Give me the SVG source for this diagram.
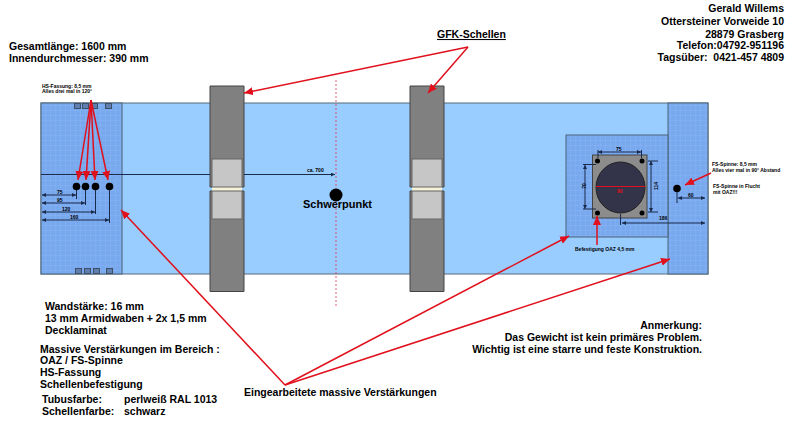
<svg xmlns="http://www.w3.org/2000/svg" width="794" height="425" viewBox="0 0 794 425">
<style>
text{font-family:"Liberation Sans",Arial,sans-serif;font-weight:bold;fill:#000}
.t{font-size:10.5px}
.s{font-size:5px}
.d{stroke:#1a2a4a;stroke-width:1;fill:none}
.dm{stroke:#1a2a4a;stroke-width:1;fill:none;marker-end:url(#dh)}
.dms{stroke:#1a2a4a;stroke-width:1;fill:none;marker-start:url(#dhs);marker-end:url(#dh)}
.r{stroke:#e0101c;stroke-width:1.5;fill:none;marker-end:url(#rh)}
.band{fill:url(#g);stroke:#4a6478;stroke-width:1}
.clamp{fill:#808080;stroke:#444;stroke-width:1}
.pad{fill:#c6c6c6;stroke:#666;stroke-width:1}
.gap{fill:#f6f2d8}
.box{fill:#5f7fae;stroke:#3f4f68;stroke-width:1}
</style>
<defs>
<pattern id="g" width="5" height="5" patternUnits="userSpaceOnUse"><rect width="5" height="5" fill="#78a8ee"/><path d="M0 0H5M0 0V5" stroke="#88b4f2" stroke-width="1"/></pattern>
<marker id="rh" markerUnits="userSpaceOnUse" markerWidth="10" markerHeight="8" refX="9" refY="4" orient="auto"><path d="M0 0L9 4L0 8Z" fill="#e0101c"/></marker>
<marker id="dh" markerUnits="userSpaceOnUse" markerWidth="5" markerHeight="4" refX="4" refY="2" orient="auto"><path d="M0 0L4 2L0 4Z" fill="#1a2a4a"/></marker>
<marker id="dhs" markerUnits="userSpaceOnUse" markerWidth="5" markerHeight="4" refX="0" refY="2" orient="auto"><path d="M4 0L0 2L4 4Z" fill="#1a2a4a"/></marker>
</defs>
<rect width="794" height="425" fill="#fff"/>
<g id="tube"><rect x="41" y="103" width="667" height="171" fill="#99ccff" stroke="#5a6a78" stroke-width="1"/></g>
<g id="left-reinforcement">
<rect class="band" x="41" y="103" width="81" height="171"/>
<rect class="box" x="74.500" y="103.500" width="6" height="5"/><rect class="box" x="82.500" y="103.500" width="6" height="5"/><rect class="box" x="91.500" y="103.500" width="6" height="5"/><rect class="box" x="105.500" y="103.500" width="6" height="5"/>
<rect class="box" x="75.500" y="268.500" width="6" height="5"/><rect class="box" x="84.500" y="268.500" width="6" height="5"/><rect class="box" x="93.500" y="268.500" width="6" height="5"/><rect class="box" x="106.500" y="268.500" width="6" height="5"/>
<circle cx="76.500" cy="186.500" r="3.800" fill="#000"/><circle cx="85.500" cy="186.500" r="3.800" fill="#000"/><circle cx="95.500" cy="186.500" r="3.800" fill="#000"/><circle cx="109.500" cy="186.500" r="3.800" fill="#000"/>
</g>
<g id="right-reinforcement">
<rect class="band" x="668" y="103" width="40" height="171"/>
<rect class="band" x="566" y="135" width="102" height="102"/>
<circle cx="677" cy="188.500" r="3.800" fill="#000"/>
</g>
<g id="oaz">
<rect x="592.500" y="155" width="54.500" height="63" fill="#8c8c8c" stroke="#444"/>
<ellipse cx="620.500" cy="187.500" rx="24.500" ry="25.500" fill="#33334a" stroke="#222"/>
<circle cx="597.500" cy="161" r="2.500" fill="#000"/><circle cx="642" cy="161" r="2.500" fill="#000"/><circle cx="597.500" cy="213" r="2.500" fill="#000"/><circle cx="642" cy="213" r="2.500" fill="#000"/>
</g>
<g id="clamp-1">
<path class="clamp" d="M210 86H244V187H210Z"/><path class="clamp" d="M210 191H244V291.500H210Z"/>
<rect class="gap" x="212" y="187" width="30" height="4"/>
<rect class="pad" x="212" y="159" width="30" height="28"/><rect class="pad" x="212" y="191" width="30" height="28"/>
</g>
<g id="clamp-2">
<path class="clamp" d="M410 86H444V187H410Z"/><path class="clamp" d="M410 191H444V291.500H410Z"/>
<rect class="gap" x="412" y="187" width="30" height="4"/>
<rect class="pad" x="412" y="159" width="30" height="28"/><rect class="pad" x="412" y="191" width="30" height="28"/>
</g>
<g id="centre-line"><line x1="336" y1="80" x2="336" y2="308" stroke="#e0405a" stroke-opacity=".7" stroke-width="1.200" stroke-dasharray="2 2"/></g>
<g id="centre-of-gravity"><circle cx="336" cy="195" r="6.500" fill="#000"/><text x="337.500" y="208" text-anchor="middle" style="font-size:11px">Schwerpunkt</text></g>
<g id="connectors">
<g>
<line class="dm" x1="41" y1="174.500" x2="210" y2="174.500" style="marker-end:none"/><line class="dm" x1="244" y1="174.500" x2="335" y2="174.500"/>
<line class="d" x1="76.500" y1="190" x2="76.500" y2="199"/><line class="d" x1="85.500" y1="190" x2="85.500" y2="205"/><line class="d" x1="95.500" y1="190" x2="95.500" y2="214"/><line class="d" x1="109.500" y1="190" x2="109.500" y2="223"/>
<line class="dms" x1="42" y1="195" x2="76" y2="195"/><line class="dms" x1="42" y1="203" x2="85" y2="203"/><line class="dms" x1="42" y1="212" x2="95" y2="212"/><line class="dms" x1="42" y1="220" x2="109" y2="220"/>
<line class="d" x1="677" y1="192" x2="677" y2="203"/><line class="dms" x1="678" y1="198" x2="705" y2="198"/>
<line class="d" x1="620.500" y1="214" x2="620.500" y2="225"/><line class="dms" x1="622" y1="223" x2="705" y2="223"/>
<line class="dms" x1="598" y1="152" x2="641" y2="152"/><line class="d" x1="598" y1="150" x2="598" y2="158"/><line class="d" x1="641.500" y1="150" x2="641.500" y2="158"/>
<line class="dms" x1="585" y1="165" x2="585" y2="209"/><line class="d" x1="583" y1="164.500" x2="596" y2="164.500"/><line class="d" x1="583" y1="209" x2="596" y2="209"/>
<line class="dms" x1="651" y1="161" x2="651" y2="212"/><line class="d" x1="648" y1="161" x2="658" y2="161"/><line class="d" x1="648" y1="212" x2="658" y2="212"/>
<line x1="596" y1="186.500" x2="645" y2="186.500" stroke="#e0101c" stroke-width="1.200"/>
</g>
<g>
<line class="r" x1="468" y1="47" x2="244" y2="93"/><line class="r" x1="468" y1="47" x2="428" y2="93"/>
<line class="r" x1="91" y1="100" x2="78" y2="180"/><line class="r" x1="91" y1="100" x2="86" y2="180"/><line class="r" x1="91" y1="100" x2="95" y2="180"/><line class="r" x1="91" y1="100" x2="108" y2="180"/>
<line class="r" x1="285" y1="385" x2="121" y2="210"/><line class="r" x1="285" y1="385" x2="569" y2="236"/><line class="r" x1="285" y1="385" x2="670" y2="259"/>
<line class="r" x1="597" y1="245" x2="597" y2="216"/>
<line class="r" x1="711" y1="173" x2="685" y2="185"/>
</g>
</g>
<g id="labels">
<text class="t" x="9" y="50">Gesamtlänge: 1600 mm</text>
<text class="t" x="9" y="62">Innendurchmesser: 390 mm</text>
<text class="t" x="784" y="12" text-anchor="end">Gerald Willems</text>
<text class="t" x="784" y="25" text-anchor="end">Ottersteiner Vorweide 10</text>
<text class="t" x="784" y="38" text-anchor="end">28879 Grasberg</text>
<text class="t" x="784" y="49" text-anchor="end">Telefon:04792-951196</text>
<text class="t" x="784" y="61" text-anchor="end" xml:space="preserve">Tagsüber:  0421-457 4809</text>
<text class="t" x="437" y="38" text-decoration="underline">GFK-Schellen</text>
<text class="s" x="42" y="88">HS-Fassung: 8,5 mm</text>
<text class="s" x="42" y="93">Alles drei mal in 120°</text>
<text class="s" x="57" y="194">75</text><text class="s" x="57" y="202">95</text><text class="s" x="62" y="211">120</text><text class="s" x="70" y="219">160</text>
<text class="s" x="307" y="172">ca. 700</text>
<text class="s" x="616" y="151">75</text>
<text class="s" x="617" y="193" style="fill:#e0101c">90</text>
<text class="s" transform="translate(586 186) rotate(-90)" text-anchor="middle">70</text>
<text class="s" transform="translate(658 186) rotate(-90)" text-anchor="middle">114</text>
<text class="s" x="659" y="220">186</text>
<text class="s" x="688" y="197">60</text>
<text class="s" x="575" y="251">Befestigung OAZ 4,5 mm</text>
<text class="s" x="712" y="166">FS-Spinne: 8,5 mm</text>
<text class="s" x="712" y="172">Alles vier mal in 90° Abstand</text>
<text class="s" x="713" y="188">FS-Spinne in Flucht</text>
<text class="s" x="713" y="194">mit OAZ!!!</text>
<text class="t" x="45" y="310">Wandstärke: 16 mm</text>
<text class="t" x="45" y="322">13 mm Armidwaben + 2x 1,5 mm</text>
<text class="t" x="45" y="334">Decklaminat</text>
<text class="t" x="40" y="353">Massive Verstärkungen im Bereich :</text>
<text class="t" x="40" y="364">OAZ / FS-Spinne</text>
<text class="t" x="40" y="376">HS-Fassung</text>
<text class="t" x="40" y="388">Schellenbefestigung</text>
<text class="t" x="42" y="403">Tubusfarbe:</text><text class="t" x="124" y="403">perlweiß RAL 1013</text>
<text class="t" x="42" y="415">Schellenfarbe:</text><text class="t" x="124" y="415">schwarz</text>
<text class="t" x="244" y="396">Eingearbeitete massive Verstärkungen</text>
<text class="t" x="702" y="329" text-anchor="end">Anmerkung:</text>
<text class="t" x="702" y="341" text-anchor="end">Das Gewicht ist kein primäres Problem.</text>
<text class="t" x="702" y="353" text-anchor="end">Wichtig ist eine starre und feste Konstruktion.</text>
</g>
</svg>
